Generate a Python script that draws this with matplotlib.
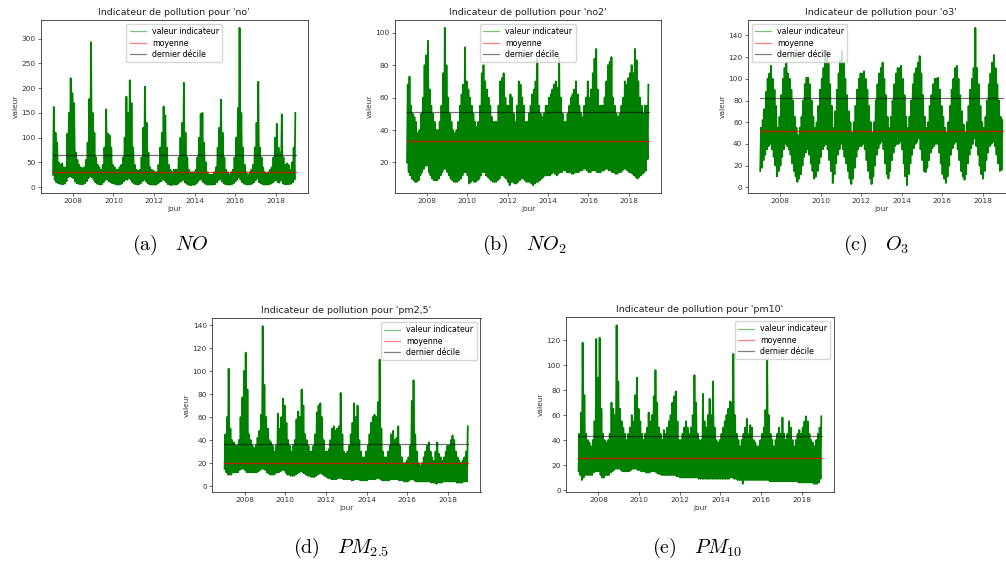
import numpy as np
import pandas as pd
import matplotlib
matplotlib.use("Agg")
import matplotlib.pyplot as plt
import matplotlib.dates as mdates
from matplotlib.ticker import MultipleLocator

plt.rcParams["mathtext.fontset"] = "cm"
plt.rcParams["font.family"] = "DejaVu Sans"

# one low and one high value per month, Jan 2007 -> Dec 2018
months = pd.date_range("2007-01-01", periods=144, freq="MS")

no_high = [162, 110, 90, 50, 45, 48, 40, 40, 108, 150, 220, 190,
           170, 70, 55, 45, 40, 38, 40, 55, 90, 178, 293, 150,
           110, 60, 45, 40, 35, 45, 80, 157, 108, 105, 80, 45,
           40, 35, 35, 40, 45, 60, 100, 183, 150, 216, 170, 80,
           45, 35, 33, 35, 60, 120, 203, 130, 70, 40, 35, 33,
           30, 30, 45, 80, 110, 163, 145, 80, 45, 35, 30, 35,
           35, 35, 60, 100, 130, 211, 110, 60, 35, 30, 30, 30,
           35, 60, 100, 148, 150, 90, 50, 30, 25, 25, 25, 30,
           40, 80, 120, 177, 110, 60, 35, 30, 25, 30, 35, 60,
           100, 160, 322, 150, 80, 45, 30, 25, 30, 35, 45, 80,
           130, 213, 80, 60, 40, 30, 28, 30, 35, 40, 60, 100,
           128, 80, 70, 147, 60, 45, 48, 45, 35, 50, 80, 150]
no_low = [25, 15, 10, 8, 7, 6, 6, 7, 12, 20, 22, 20,
          18, 12, 8, 7, 6, 6, 6, 8, 12, 18, 22, 20,
          15, 10, 7, 6, 5, 6, 10, 15, 15, 12, 10, 8,
          7, 6, 5, 5, 6, 8, 12, 15, 15, 18, 15, 10,
          7, 6, 5, 6, 8, 12, 15, 12, 8, 6, 5, 5,
          5, 5, 7, 10, 12, 15, 14, 10, 6, 5, 4, 5,
          5, 5, 7, 10, 12, 15, 10, 7, 5, 4, 4, 5,
          5, 8, 12, 15, 15, 10, 7, 5, 5, 5, 5, 5,
          6, 10, 14, 16, 12, 8, 6, 5, 5, 5, 6, 8,
          12, 15, 20, 15, 10, 7, 6, 5, 5, 6, 7, 10,
          14, 18, 10, 8, 6, 5, 5, 5, 6, 7, 9, 12,
          14, 10, 9, 14, 8, 6, 6, 6, 6, 7, 10, 15]

no2_high = [68, 73, 55, 50, 48, 45, 38, 40, 50, 60, 80, 86,
            95, 65, 55, 50, 45, 40, 40, 45, 55, 75, 103, 80,
            60, 50, 45, 40, 38, 40, 45, 55, 62, 68, 91, 70,
            65, 60, 55, 50, 45, 42, 45, 55, 75, 80, 70, 65,
            60, 55, 48, 45, 45, 45, 55, 70, 72, 75, 60, 55,
            55, 62, 60, 50, 45, 55, 70, 68, 60, 55, 45, 45,
            50, 55, 62, 65, 70, 84, 55, 50, 48, 50, 55, 55,
            60, 62, 65, 68, 70, 66, 85, 60, 50, 45, 45, 50,
            55, 60, 62, 65, 70, 62, 55, 50, 48, 55, 60, 70,
            60, 65, 75, 84, 90, 65, 55, 55, 55, 60, 70, 80,
            82, 85, 60, 55, 50, 48, 50, 55, 60, 70, 68, 72,
            75, 80, 75, 90, 83, 70, 60, 55, 50, 55, 55, 68]
no2_low = [20, 14, 12, 10, 9, 8, 8, 9, 12, 14, 16, 18,
           18, 14, 12, 10, 9, 9, 9, 10, 12, 14, 16, 16,
           14, 12, 10, 9, 8, 8, 8, 9, 10, 12, 14, 14,
           12, 7, 8, 9, 8, 8, 9, 10, 12, 14, 14, 12,
           11, 10, 9, 8, 8, 8, 9, 10, 12, 12, 11, 10,
           8, 6, 8, 8, 7, 7, 8, 9, 10, 10, 9, 8,
           8, 8, 7, 6, 7, 8, 8, 9, 10, 11, 12, 12,
           12, 12, 13, 14, 13, 12, 13, 14, 14, 15, 15, 14,
           14, 14, 13, 13, 14, 14, 14, 15, 15, 16, 16, 15,
           14, 14, 15, 15, 15, 14, 14, 14, 15, 15, 16, 16,
           15, 15, 14, 14, 13, 13, 14, 14, 15, 16, 16, 15,
           14, 14, 13, 12, 11, 10, 11, 12, 13, 14, 15, 22]

o3_high = [55, 62, 72, 88, 100, 105, 112, 100, 90, 75, 55, 65,
           85, 100, 110, 115, 105, 100, 90, 80, 65, 55, 48, 55,
           65, 80, 95, 101, 101, 95, 80, 65, 55, 60, 75, 90,
           100, 110, 120, 126, 115, 95, 75, 55, 70, 90, 105, 117,
           126, 115, 100, 85, 70, 60, 50, 60, 75, 90, 100, 105,
           105, 107, 100, 90, 75, 60, 50, 60, 80, 95, 105, 110,
           115, 100, 85, 65, 55, 65, 80, 95, 105, 110, 110, 112,
           100, 85, 65, 55, 65, 80, 95, 105, 110, 115, 121, 105,
           85, 65, 55, 60, 75, 85, 95, 100, 100, 101, 90, 75,
           65, 55, 50, 60, 75, 90, 100, 110, 112, 100, 85, 70,
           58, 50, 60, 75, 90, 100, 110, 147, 110, 95, 75, 60,
           55, 65, 80, 95, 105, 115, 122, 110, 95, 80, 65, 62]
o3_low = [15, 18, 25, 30, 35, 38, 40, 35, 28, 20, 10, 15,
          20, 28, 35, 40, 38, 35, 30, 22, 15, 10, 5, 8,
          12, 20, 28, 32, 35, 30, 22, 15, 8, 10, 15, 22,
          28, 35, 38, 40, 35, 25, 15, 4, 12, 22, 30, 35,
          40, 35, 28, 22, 15, 8, 3, 8, 18, 28, 35, 38,
          38, 40, 35, 25, 15, 8, 3, 10, 20, 30, 36, 40,
          42, 35, 22, 12, 8, 15, 25, 32, 38, 40, 40, 42,
          35, 22, 10, 2, 12, 22, 30, 36, 40, 42, 45, 35,
          25, 15, 14, 18, 25, 32, 36, 38, 40, 40, 32, 22,
          12, 8, 4, 10, 20, 30, 36, 40, 42, 35, 25, 15,
          10, 7, 12, 22, 30, 36, 40, 45, 38, 30, 20, 12,
          8, 15, 25, 32, 38, 40, 42, 38, 30, 22, 15, 16]

pm25_high = [45, 60, 102, 50, 40, 38, 35, 35, 40, 60, 77, 100,
             116, 84, 45, 40, 35, 33, 35, 42, 48, 62, 139, 88,
             60, 50, 40, 38, 35, 30, 35, 63, 50, 60, 76, 70,
             55, 40, 35, 30, 35, 40, 58, 65, 60, 84, 70, 45,
             40, 35, 30, 30, 35, 45, 64, 70, 72, 60, 40, 30,
             30, 32, 40, 50, 52, 48, 50, 52, 81, 45, 30, 28,
             30, 35, 45, 55, 72, 60, 70, 40, 30, 25, 25, 30,
             35, 45, 55, 60, 62, 60, 73, 110, 50, 30, 25, 25,
             30, 35, 45, 48, 40, 42, 52, 35, 25, 20, 20, 22,
             25, 35, 74, 92, 45, 30, 20, 18, 20, 25, 30, 35,
             38, 30, 25, 22, 30, 38, 28, 25, 22, 25, 30, 35,
             35, 40, 44, 40, 30, 25, 22, 20, 22, 25, 30, 52]
pm25_low = [15, 12, 10, 10, 10, 12, 12, 12, 12, 14, 15, 15,
            14, 12, 12, 12, 12, 12, 12, 12, 13, 14, 15, 15,
            14, 12, 11, 10, 10, 10, 11, 12, 12, 13, 14, 14,
            12, 10, 10, 9, 9, 9, 10, 11, 12, 13, 12, 11,
            10, 9, 9, 8, 8, 8, 9, 10, 11, 11, 10, 9,
            8, 7, 7, 6, 6, 6, 6, 7, 7, 7, 6, 6,
            6, 6, 6, 5, 5, 6, 6, 6, 5, 5, 5, 5,
            5, 6, 6, 6, 6, 6, 7, 7, 6, 5, 5, 5,
            5, 5, 6, 6, 6, 6, 6, 5, 5, 5, 4, 4,
            4, 5, 6, 6, 5, 4, 4, 4, 4, 4, 4, 4,
            4, 4, 3, 3, 3, 2, 3, 3, 3, 4, 4, 4,
            4, 4, 4, 4, 4, 3, 3, 3, 3, 4, 4, 4]

pm10_high = [45, 62, 118, 76, 45, 40, 38, 35, 40, 55, 121, 90,
             122, 65, 45, 40, 38, 40, 45, 70, 65, 60, 132, 87,
             65, 55, 50, 45, 40, 45, 50, 60, 55, 76, 90, 65,
             55, 45, 40, 45, 50, 62, 55, 60, 75, 96, 70, 50,
             45, 40, 48, 45, 50, 55, 60, 70, 75, 79, 55, 40,
             40, 45, 50, 55, 50, 45, 50, 60, 92, 70, 45, 40,
             40, 77, 55, 50, 60, 73, 60, 87, 50, 40, 38, 40,
             45, 50, 55, 60, 65, 71, 70, 109, 60, 45, 40, 35,
             40, 45, 50, 57, 45, 52, 50, 40, 38, 35, 35, 40,
             45, 50, 64, 104, 60, 45, 40, 35, 40, 45, 50, 45,
             58, 45, 40, 45, 55, 50, 40, 35, 40, 45, 48, 45,
             50, 55, 59, 55, 45, 40, 38, 35, 40, 45, 50, 59]
pm10_low = [15, 12, 8, 10, 12, 12, 12, 12, 12, 14, 15, 15,
            15, 12, 10, 10, 12, 12, 12, 14, 15, 16, 17, 17,
            17, 16, 15, 15, 15, 15, 15, 16, 17, 17, 17, 16,
            16, 15, 15, 15, 14, 14, 14, 15, 15, 15, 14, 13,
            13, 12, 12, 12, 12, 12, 12, 12, 12, 12, 11, 11,
            10, 10, 10, 10, 10, 10, 10, 10, 10, 10, 10, 9,
            9, 9, 9, 9, 9, 9, 9, 9, 9, 9, 9, 9,
            9, 9, 9, 9, 9, 9, 10, 10, 9, 9, 8, 8,
            8, 5, 8, 8, 8, 8, 8, 8, 8, 8, 8, 8,
            8, 8, 8, 8, 8, 7, 7, 7, 7, 7, 7, 7,
            7, 7, 7, 7, 7, 7, 7, 7, 7, 7, 6, 6,
            6, 6, 6, 6, 6, 6, 6, 5, 5, 5, 6, 9]

# mean and last decile
means = {"no": 30, "no2": 33, "o3": 52, "pm2,5": 20, "pm10": 26}
deciles = {"no": 64, "no2": 51, "o3": 82, "pm2,5": 36.5, "pm10": 43}

panels = [
    ("no", no_high, no_low, [40.5, 20, 308, 193], "upper center", 50, r"$\mathrm{(a)}\ \ \ NO$", (170, 245)),
    ("no2", no2_high, no2_low, [394.5, 20, 661, 193], "upper center", 20, r"$\mathrm{(b)}\ \ \ NO_2$", (524, 245)),
    ("o3", o3_high, o3_low, [747.7, 20, 1015, 193], "upper left", 20, r"$\mathrm{(c)}\ \ \ O_3$", (876, 245)),
    ("pm2,5", pm25_high, pm25_low, [212, 318.3, 480.5, 491.7], "upper right", 20, r"$\mathrm{(d)}\ \ \ PM_{2.5}$", (341, 548)),
    ("pm10", pm10_high, pm10_low, [566, 317.3, 834, 491.7], "upper right", 20, r"$\mathrm{(e)}\ \ \ PM_{10}$", (697, 548)),
]

W, H = 1006, 563
fig = plt.figure(figsize=(W / 100, H / 100), dpi=100)

t0 = pd.Timestamp("2007-01-01")
t1 = pd.Timestamp("2018-12-31")
pad = (t1 - t0) * 0.05

x = np.empty(2 * len(months), dtype="datetime64[ns]")
x[0::2] = (months + pd.Timedelta(days=7)).values
x[1::2] = (months + pd.Timedelta(days=21)).values

for key, high, low, (x0, y0, x1, y1), loc, step, caption, (cx, cy) in panels:
    ax = fig.add_axes([x0 / W, 1 - y1 / H, (x1 - x0) / W, (y1 - y0) / H])
    y = np.empty(2 * len(months))
    y[0::2] = low
    y[1::2] = high
    ax.plot(x, y, color="g", lw=1.3)
    ax.plot([t0, t1], [means[key]] * 2, color="r", alpha=0.7, lw=1.0)
    ax.plot([t0, t1], [deciles[key]] * 2, color="k", alpha=0.55, lw=0.9)
    # legend handles
    ax.plot([], [], color="g", alpha=0.5, lw=0.9, label="valeur indicateur")
    ax.plot([], [], color="r", alpha=0.5, lw=0.9, label="moyenne")
    ax.plot([], [], color="k", alpha=0.5, lw=0.9, label="dernier décile")
    ax.set_xlim(t0 - pad, t1 + pad)
    ax.xaxis.set_major_locator(mdates.YearLocator(2))
    ax.xaxis.set_major_formatter(mdates.DateFormatter("%Y"))
    ax.yaxis.set_major_locator(MultipleLocator(step))
    ax.tick_params(labelsize=5.3, length=2.2, width=0.5, pad=1.5, colors="#333333")
    for s in ax.spines.values():
        s.set_linewidth(0.6)
        s.set_color("#333333")
    ax.set_title(f"Indicateur de pollution pour '{key}'", fontsize=6.8, pad=3.5, color="#222222")
    ax.set_xlabel("jour", fontsize=5.3, labelpad=1.5, color="#333333")
    ax.set_ylabel("valeur", fontsize=5.3, labelpad=2, color="#333333")
    ax.legend(loc=loc, fontsize=5.7, handlelength=2, borderpad=0.4, labelspacing=0.3)
    fig.text(cx / W, 1 - cy / H, caption, fontsize=14.5, ha="center", va="center")

fig.savefig("out.png", dpi=100)
